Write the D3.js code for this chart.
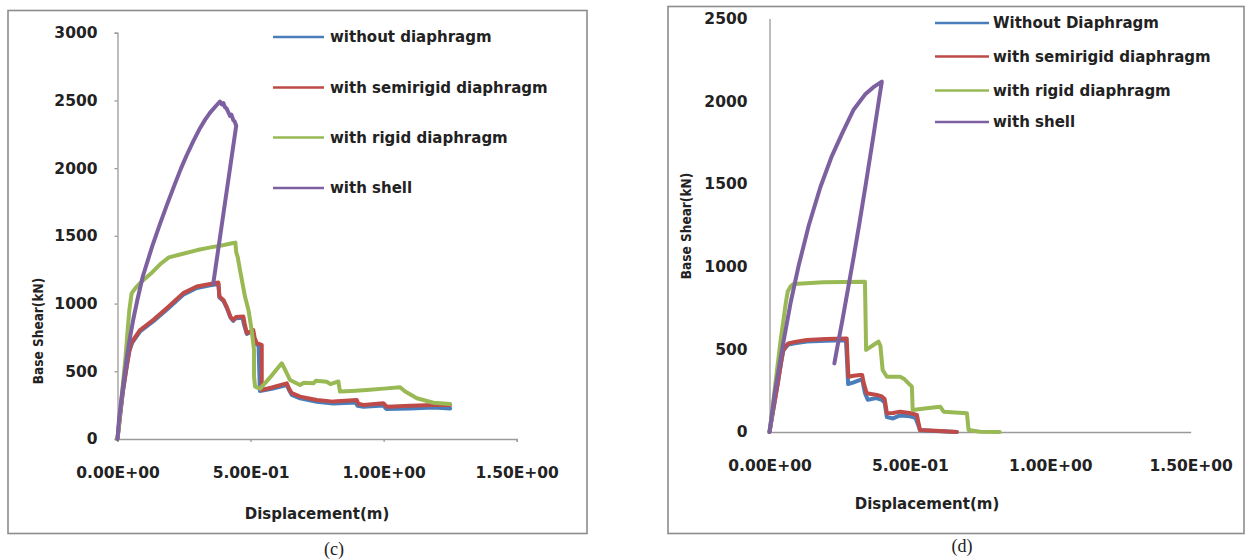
<!DOCTYPE html>
<html>
<head>
<meta charset="utf-8">
<script src="https://cdn.jsdelivr.net/npm/d3@7"></script>
<style>
  html, body { margin: 0; padding: 0; background: #fff; }
  svg { display: block; }
  text { font-family: "DejaVu Sans", sans-serif; font-weight: bold; fill: #222; }
</style>
</head>
<body>
<svg id="chart" width="1245" height="560"></svg>
<script>
// ---------- data ----------
const seriesNamesC = ["without diaphragm", "with semirigid diaphragm", "with rigid diaphragm", "with shell"];
const seriesNamesD = ["Without Diaphragm", "with semirigid diaphragm", "with rigid diaphragm", "with shell"];
const seriesColors = ["#4a7ebb", "#be4b48", "#98b954", "#7d60a0"];

const xTickValues = [0, 0.5, 1.0, 1.5];
const xTickLabels = ["0.00E+00", "5.00E-01", "1.00E+00", "1.50E+00"];
const yTickValuesC = [0, 500, 1000, 1500, 2000, 2500, 3000];
const yTickValuesD = [0, 500, 1000, 1500, 2000, 2500];

// chart (c): [displacement m, base shear kN]
const cWithout = [[0,0],[0.01,175],[0.02,345],[0.03,475],[0.038,575],[0.045,650],[0.055,710],[0.085,795],[0.135,870],[0.185,955],[0.247,1065],[0.298,1115],[0.348,1135],[0.379,1145],[0.383,1045],[0.398,1020],[0.41,970],[0.425,895],[0.435,872],[0.445,892],[0.47,895],[0.476,840],[0.486,775],[0.505,795],[0.512,740],[0.52,700],[0.53,690],[0.535,355],[0.58,370],[0.636,398],[0.645,360],[0.655,325],[0.686,300],[0.749,275],[0.811,262],[0.895,270],[0.902,245],[0.924,238],[0.999,248],[1.01,222],[1.1,225],[1.187,232],[1.25,226]];
const cSemirigid = [[0,0],[0.01,180],[0.02,350],[0.03,480],[0.038,580],[0.045,660],[0.055,720],[0.085,805],[0.135,880],[0.185,966],[0.247,1077],[0.298,1126],[0.348,1145],[0.379,1155],[0.383,1052],[0.398,1027],[0.41,978],[0.425,900],[0.435,879],[0.445,900],[0.473,904],[0.478,850],[0.486,781],[0.51,805],[0.515,750],[0.523,707],[0.542,695],[0.542,362],[0.58,380],[0.636,411],[0.645,370],[0.655,338],[0.686,313],[0.749,288],[0.811,276],[0.899,288],[0.905,260],[0.924,251],[0.999,264],[1.012,239],[1.1,245],[1.187,251],[1.25,251]];
const cRigid = [[0,0],[0.01,200],[0.02,400],[0.03,600],[0.038,800],[0.045,960],[0.053,1075],[0.07,1120],[0.089,1160],[0.13,1230],[0.16,1290],[0.193,1341],[0.25,1370],[0.3,1395],[0.35,1415],[0.4,1432],[0.43,1445],[0.443,1450],[0.446,1380],[0.452,1341],[0.46,1250],[0.479,1052],[0.492,953],[0.504,805],[0.508,740],[0.513,658],[0.513,461],[0.517,387],[0.536,372],[0.58,470],[0.617,559],[0.625,530],[0.648,436],[0.686,399],[0.7,415],[0.736,411],[0.745,430],[0.786,423],[0.8,405],[0.83,425],[0.836,350],[0.88,355],[0.937,362],[1.0,372],[1.062,382],[1.081,350],[1.125,301],[1.187,268],[1.25,258]];
const cShell = [[0,0],[0.006,150],[0.015,300],[0.025,450],[0.035,600],[0.047,750],[0.06,890],[0.075,1030],[0.095,1200],[0.13,1420],[0.16,1590],[0.185,1725],[0.215,1880],[0.239,2000],[0.26,2095],[0.285,2200],[0.31,2295],[0.33,2360],[0.348,2410],[0.368,2455],[0.385,2492],[0.392,2470],[0.398,2480],[0.404,2450],[0.41,2440],[0.423,2385],[0.428,2395],[0.435,2355],[0.44,2345],[0.446,2313],[0.36,1150]];

// chart (d)
const dWithout = [[0,0],[0.01,100],[0.02,200],[0.03,300],[0.037,375],[0.043,435],[0.049,490],[0.058,512],[0.067,528],[0.09,537],[0.133,547],[0.2,552],[0.272,555],[0.275,470],[0.28,290],[0.3,300],[0.323,315],[0.33,318],[0.34,235],[0.35,195],[0.38,205],[0.4,195],[0.41,178],[0.418,90],[0.44,82],[0.465,100],[0.5,95],[0.52,85],[0.53,40],[0.536,10],[0.608,5],[0.667,0]];
const dSemirigid = [[0,0],[0.01,100],[0.02,200],[0.03,300],[0.037,375],[0.043,440],[0.049,496],[0.058,520],[0.067,536],[0.09,545],[0.133,556],[0.2,562],[0.275,566],[0.277,480],[0.281,334],[0.3,340],[0.323,345],[0.33,345],[0.335,300],[0.346,234],[0.382,224],[0.4,215],[0.41,200],[0.418,113],[0.44,115],[0.465,123],[0.5,115],[0.525,103],[0.53,60],[0.536,12],[0.608,6],[0.667,0]];
const dRigid = [[0,0],[0.01,130],[0.02,280],[0.03,420],[0.04,560],[0.05,680],[0.058,780],[0.065,850],[0.075,880],[0.085,895],[0.192,905],[0.34,909],[0.344,496],[0.37,526],[0.388,546],[0.395,520],[0.403,375],[0.418,334],[0.465,334],[0.48,320],[0.507,274],[0.51,133],[0.56,143],[0.608,153],[0.62,123],[0.703,113],[0.709,12],[0.75,2],[0.82,0]];
const dShell = [[0,0],[0.02,250],[0.047,520],[0.075,780],[0.103,1000],[0.14,1250],[0.181,1480],[0.22,1660],[0.26,1810],[0.3,1950],[0.34,2040],[0.37,2085],[0.4,2118],[0.39,2010],[0.37,1790],[0.344,1510],[0.32,1260],[0.3,1060],[0.28,870],[0.26,680],[0.245,545],[0.231,415]];

// ---------- drawing ----------
const svg = d3.select("#chart");

function drawPanel(cfg) {
  const g = svg.append("g");
  // outer frame
  g.append("rect")
    .attr("x", cfg.frame[0]).attr("y", cfg.frame[1])
    .attr("width", cfg.frame[2]).attr("height", cfg.frame[3])
    .attr("fill", "#fff").attr("stroke", "#8c8c8c").attr("stroke-width", 1.6);

  const x = d3.scaleLinear().domain([0, 1.5]).range(cfg.xRange);
  const y = d3.scaleLinear().domain([0, cfg.yMax]).range(cfg.yRange);

  const yAxis = d3.axisLeft(y).tickValues(cfg.yTicks).tickFormat(d3.format("d"))
    .tickSize(cfg.tick).tickPadding(cfg.yPad);
  const xAxis = d3.axisBottom(x).tickValues(xTickValues)
    .tickFormat((d, i) => xTickLabels[i]).tickSize(cfg.tick).tickPadding(27.5 - cfg.tick);

  const gy = g.append("g").attr("transform", `translate(${cfg.xRange[0]},0)`).call(yAxis);
  const gx = g.append("g").attr("transform", `translate(0,${cfg.yRange[0]})`).call(xAxis);
  [gx, gy].forEach(a => {
    a.select(".domain").attr("stroke", "#9a9a9a").attr("stroke-width", 1.3);
    a.selectAll(".tick line").attr("stroke", "#9a9a9a").attr("stroke-width", 1.3);
    a.selectAll(".tick text").style("font-family", "DejaVu Sans").style("font-weight", "bold")
      .style("font-size", "15.5px").attr("fill", "#222");
  });

  const line = d3.line().x(d => x(d[0])).y(d => y(d[1]));
  cfg.series.forEach((s, i) => {
    g.append("path").datum(s)
      .attr("d", line)
      .attr("fill", "none")
      .attr("stroke", seriesColors[i])
      .attr("stroke-width", 4)
      .attr("stroke-linejoin", "round")
      .attr("stroke-linecap", "round");
  });

  // legend
  cfg.names.forEach((n, i) => {
    const ly = cfg.legendY[i];
    g.append("line")
      .attr("x1", cfg.legendX[0]).attr("x2", cfg.legendX[1])
      .attr("y1", ly).attr("y2", ly)
      .attr("stroke", seriesColors[i]).attr("stroke-width", 2.5);
    g.append("text")
      .attr("x", cfg.legendX[2]).attr("y", ly)
      .attr("dy", "0.35em")
      .style("font-size", "15px")
      .text(n);
  });

  // axis titles
  g.append("text")
    .attr("x", cfg.xTitle[0]).attr("y", cfg.xTitle[1])
    .attr("text-anchor", "middle").attr("dy", "0.35em")
    .style("font-size", "15px")
    .text("Displacement(m)");
  g.append("text")
    .attr("transform", `translate(${cfg.yTitle[0]},${cfg.yTitle[1]}) rotate(-90) scale(0.84,1)`)
    .attr("text-anchor", "middle").attr("dy", "0.35em")
    .style("font-size", "14.5px")
    .text("Base Shear(kN)");

  // caption
  svg.append("text")
    .attr("x", cfg.caption[0]).attr("y", cfg.caption[1])
    .attr("text-anchor", "middle").attr("dy", "0.35em")
    .style("font-family", "Liberation Serif, serif").style("font-weight", "normal")
    .style("font-size", "18px").attr("fill", "#111")
    .text(cfg.captionText);
}

drawPanel({
  frame: [8, 10.5, 579, 523],
  xRange: [117.5, 516.7],
  yRange: [439, 32.7],
  yMax: 3000,
  yTicks: yTickValuesC,
  tick: 3,
  yPad: 17,
  series: [cWithout, cSemirigid, cRigid, cShell],
  names: seriesNamesC,
  legendX: [273, 324, 330],
  legendY: [37, 87.5, 137.5, 188],
  xTitle: [317, 514],
  yTitle: [37.5, 331],
  caption: [334, 549],
  captionText: "(c)"
});

drawPanel({
  frame: [668, 6.5, 576, 527],
  xRange: [769.5, 1190.7],
  yRange: [432, 18.5],
  yMax: 2500,
  yTicks: yTickValuesD,
  tick: 0,
  yPad: 22,
  series: [dWithout, dSemirigid, dRigid, dShell],
  names: seriesNamesD,
  legendX: [935, 989, 993],
  legendY: [23, 56.5, 90.5, 122],
  xTitle: [927, 504],
  yTitle: [686, 226],
  caption: [962, 546],
  captionText: "(d)"
});
</script>
</body>
</html>
